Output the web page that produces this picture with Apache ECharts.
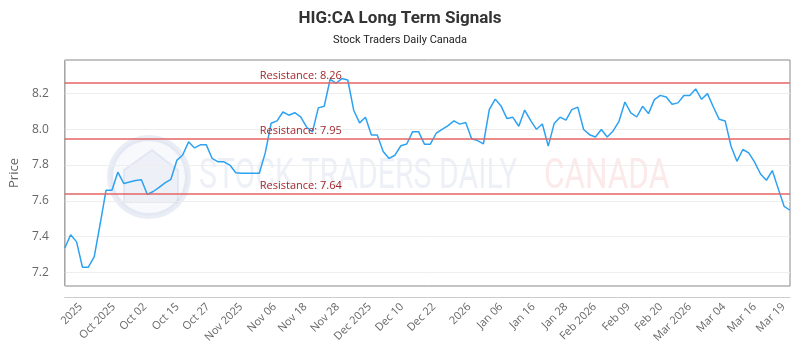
<!DOCTYPE html>
<html>
<head>
<meta charset="utf-8">
<script src="https://cdn.jsdelivr.net/npm/echarts@6/dist/echarts.min.js"></script>
<style>
  html, body { margin: 0; padding: 0; background: #fff; }
  #chart { width: 800px; height: 350px; }
</style>
</head>
<body>
<div id="chart"></div>
<script>
// price values (one per point)
const price = [
    7.336, 7.41, 7.37, 7.228, 7.228, 7.287, 7.47, 7.659, 7.659, 7.76,
    7.697, 7.705, 7.713, 7.718, 7.635, 7.652, 7.675, 7.70, 7.72, 7.826,
    7.856, 7.93, 7.896, 7.913, 7.913, 7.837, 7.818, 7.818, 7.80, 7.757,
    7.754, 7.754, 7.754, 7.754, 7.868, 8.034, 8.047, 8.097, 8.079, 8.093,
    8.07, 8.013, 7.985, 8.12, 8.129, 8.279, 8.258, 8.284, 8.276, 8.107,
    8.036, 8.068, 7.968, 7.968, 7.876, 7.837, 7.855, 7.908, 7.918, 7.987,
    7.987, 7.917, 7.917, 7.978, 8.0, 8.021, 8.047, 8.029, 8.038, 7.947,
    7.937, 7.919, 8.11, 8.169, 8.13, 8.06, 8.067, 8.017, 8.108, 8.05,
    8.0, 8.03, 7.906, 8.032, 8.068, 8.051, 8.11, 8.124, 7.999, 7.97,
    7.957, 7.999, 7.957, 7.991, 8.045, 8.153, 8.092, 8.069, 8.129, 8.088,
    8.166, 8.19, 8.181, 8.14, 8.148, 8.189, 8.189, 8.226, 8.168, 8.2,
    8.125, 8.056, 8.047, 7.905, 7.821, 7.887, 7.868, 7.816, 7.75, 7.715,
    7.769, 7.668, 7.569, 7.547
];

// x axis labels and where (in points) each one sits
const tickLabels = ['2025', 'Oct 2025', 'Oct 02', 'Oct 15', 'Oct 27', 'Nov 2025', 'Nov 06', 'Nov 18',
    'Nov 28', 'Dec 2025', 'Dec 10', 'Dec 22', '2026', 'Jan 06', 'Jan 16', 'Jan 28', 'Feb 2026',
    'Feb 09', 'Feb 20', 'Mar 2026', 'Mar 04', 'Mar 16', 'Mar 19'];
const tickAt = [2.7, 8.3, 13.6, 19.1, 24.3, 29.9, 35.6, 40.8, 46.3, 51.7, 57.2, 62.6,
    68.6, 74.0, 79.5, 85.0, 89.9, 95.6, 101.1, 106.0, 111.8, 117.0, 121.9];

const yTicks = [7.2, 7.4, 7.6, 7.8, 8.0, 8.2];
const resistance = [8.26, 7.95, 7.64];

const points = price.map((v, i) => [i, v]);

var myChart = echarts.init(document.getElementById('chart'), null, { renderer: 'canvas' });

let option = {
    animation: false,
    backgroundColor: '#fff',
    title: {
        text: 'HIG:CA Long Term Signals',
        subtext: 'Stock Traders Daily Canada',
        left: 'center',
        top: 5,
        itemGap: 8,
        textStyle: {
            fontFamily: 'Roboto',
            fontSize: 17,
            fontWeight: 'bold',
            color: '#333'
        },
        subtextStyle: {
            fontFamily: 'Roboto',
            fontSize: 11,
            color: '#222'
        }
    },

    // watermark
    graphic: [
        {
            type: 'circle',
            z: -1,
            shape: { cx: 149, cy: 177, r: 39 },
            style: { fill: 'rgba(205,215,235,0.15)', stroke: 'rgba(175,190,220,0.28)', lineWidth: 6 }
        },
        {
            type: 'polygon',
            z: -1,
            shape: { points: [[124, 202], [124, 170], [152, 150], [178, 170], [178, 202]] },
            style: { fill: 'rgba(175,190,220,0.14)', stroke: 'rgba(175,190,220,0.25)', lineWidth: 2 }
        },
        {
            type: 'text',
            z: -1,
            x: 199,
            y: 177,
            scaleX: 0.72,
            style: {
                text: 'STOCK TRADERS DAILY',
                fontFamily: 'Roboto',
                fontSize: 42,
                verticalAlign: 'middle',
                fill: 'rgba(195,205,225,0.3)'
            }
        },
        {
            type: 'text',
            z: -1,
            x: 544,
            y: 177,
            scaleX: 0.75,
            style: {
                text: 'CANADA',
                fontFamily: 'Roboto',
                fontSize: 42,
                verticalAlign: 'middle',
                fill: 'rgba(245,175,175,0.28)'
            }
        }
    ],

    grid: {
        left: 63,
        right: 10,
        top: 60,
        bottom: 64,
        show: true,
        borderColor: '#888',
        borderWidth: 1,
        backgroundColor: 'transparent'
    },

    xAxis: {
        type: 'value',
        min: 0,
        max: price.length - 1,
        offset: 11,
        axisLine: { show: true, lineStyle: { color: '#ccc' } },
        axisTick: { show: false, customValues: tickAt },
        splitLine: { show: false },
        axisLabel: {
            customValues: tickAt,
            rotate: 45,
            margin: 8,
            color: '#666',
            fontFamily: 'Open Sans',
            fontSize: 11,
            formatter: function (v) { return tickLabels[tickAt.indexOf(v)]; }
        }
    },

    yAxis: {
        type: 'value',
        min: 7.123,
        max: 8.388,
        offset: 10,
        name: 'Price',
        nameLocation: 'middle',
        nameGap: 28,
        nameTextStyle: { color: '#666', fontSize: 13, fontFamily: 'Open Sans' },
        axisLine: { show: true, lineStyle: { color: '#ccc' } },
        axisTick: { show: false, customValues: yTicks },
        axisLabel: {
            customValues: yTicks,
            margin: 6,
            color: '#666',
            fontFamily: 'Open Sans',
            fontSize: 12,
            formatter: function (v) { return v.toFixed(1); }
        },
        splitLine: { show: true, lineStyle: { color: '#eee', width: 1 } }
    },

    series: [{
        name: 'HIG:CA',
        type: 'line',
        data: points,
        showSymbol: false,
        lineStyle: { color: '#2da2f2', width: 1.5 },
        z: 3,
        markLine: {
            silent: true,
            symbol: 'none',
            lineStyle: { color: 'rgba(230,100,100,0.75)', width: 2, type: 'solid' },
            label: {
                position: 'insideStartTop',
                distance: [195, 2],
                color: '#a3282c',
                fontFamily: 'Open Sans',
                fontSize: 11,
                formatter: function (p) { return 'Resistance: ' + p.value.toFixed(2); }
            },
            data: resistance.map(function (v) { return { yAxis: v }; })
        }
    }]
};

myChart.setOption(option);
</script>
</body>
</html>
